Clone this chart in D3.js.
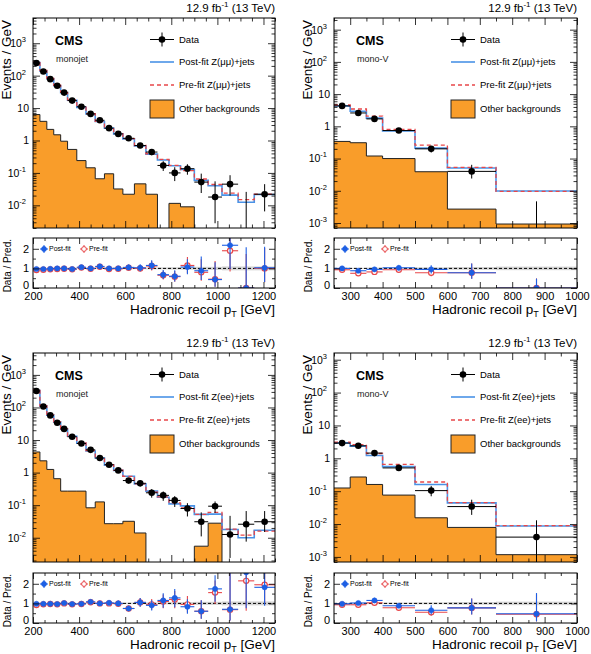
<!DOCTYPE html>
<html>
<head>
<meta charset="utf-8">
<script src="https://cdn.jsdelivr.net/npm/d3@7"></script>
<style>
  body { margin: 0; background: #fff; }
  svg { display: block; font-family: "Liberation Sans", Arial, Helvetica, sans-serif; }
</style>
</head>
<body>
<script>
// bin edges (GeV)
const monojetEdges = [200, 230, 260, 290, 320, 350, 390, 430, 470, 510, 550, 590, 640, 690, 740, 790, 840, 900, 960, 1020, 1090, 1160, 1250];
const monoVEdges = [250, 300, 350, 400, 500, 600, 750, 1000];

// monojet, Z(mumu)
const muJetData = [245, 135, 78, 49, 30, 17, 11, 6.6, 4.2, 2.4, 1.6, 1.17, 0.70, 0.44, 0.17, 0.10, 0.135, 0.052, 0.018, 0.045, 0, 0.022];
const muJetLo = [241, 133, 76.5, 47.7, 29, 16.4, 10.5, 6.2, 3.9, 2.15, 1.4, 1.02, 0.58, 0.35, 0.115, 0.056, 0.088, 0.024, 0.0028, 0.02, 0, 0.0065];
const muJetHi = [249, 137, 79.5, 50.3, 31, 17.7, 11.5, 7.0, 4.5, 2.65, 1.8, 1.33, 0.82, 0.54, 0.23, 0.15, 0.185, 0.095, 0.055, 0.085, 0.026, 0.045];
const muJetPost = [255, 140, 80, 49, 30, 17.5, 10.5, 6.6, 3.85, 2.4, 1.6, 1.12, 0.68, 0.38, 0.25, 0.167, 0.127, 0.059, 0.040, 0.0206, 0.0125, 0.0215];
const muJetPre = [266, 145, 82, 50.5, 30.6, 17.9, 10.6, 6.7, 3.9, 2.47, 1.63, 1.14, 0.70, 0.39, 0.26, 0.172, 0.117, 0.065, 0.044, 0.0237, 0.015, 0.022];
const muJetOther = [6.3, 3.9, 2.2, 1.5, 0.95, 0.53, 0.24, 0.144, 0.066, 0.094, 0.032, 0.022, 0.046, 0.022, 0, 0.0115, 0.009, 0, 0, 0, 0, 0];
const muJetRatioPost = [0.97, 0.97, 0.98, 1.0, 1.0, 0.97, 1.06, 1.0, 1.1, 1.0, 1.0, 1.05, 1.03, 1.15, 0.68, 0.6, 1.07, 0.88, 0.43, 2.18, 0, 1.03];
const muJetRatioPre = [0.92, 0.93, 0.95, 0.97, 0.98, 0.95, 1.04, 0.98, 1.08, 0.97, 0.98, 1.03, 1.0, 1.12, 0.65, 0.58, 1.15, 0.8, 0.45, 1.9, 0, 1.0];
const muJetBand = [0.02, 0.02, 0.02, 0.02, 0.02, 0.02, 0.03, 0.03, 0.03, 0.03, 0.04, 0.04, 0.04, 0.05, 0.05, 0.06, 0.07, 0.08, 0.08, 0.1, 0.1, 0.1];

// mono-V, Z(mumu)
const muVData = [4.3, 2.6, 1.7, 0.74, 0.20, 0.040, 0];
const muVLo = [4.0, 2.37, 1.52, 0.65, 0.155, 0.024, 0];
const muVHi = [4.6, 2.83, 1.88, 0.83, 0.245, 0.064, 0.0047];
const muVPost = [4.3, 2.95, 1.8, 0.72, 0.21, 0.051, 0.0098];
const muVPre = [4.6, 3.45, 2.07, 0.80, 0.26, 0.053, 0.0096];
const muVOther = [0.34, 0.31, 0.12, 0.10, 0.039, 0.0027, 0.00093];
const muVRatioPost = [1.0, 0.88, 0.95, 1.03, 0.95, 0.78, 0];
const muVRatioPre = [0.93, 0.75, 0.82, 0.93, 0.78, 0.78, 0];
const muVBand = [0.03, 0.03, 0.04, 0.04, 0.05, 0.07, 0.09];

// monojet, Z(ee)
const eeJetData = [320, 107, 57, 34, 22, 12.6, 7.8, 5.0, 2.8, 1.75, 1.17, 0.57, 0.47, 0.24, 0.20, 0.14, 0.079, 0.031, 0.093, 0.0126, 0.026, 0.031];
const eeJetLo = [317, 105, 55.6, 33, 21.1, 12.0, 7.35, 4.65, 2.53, 1.54, 1.0, 0.46, 0.37, 0.17, 0.136, 0.088, 0.045, 0.011, 0.058, 0.0024, 0.0076, 0.015];
const eeJetHi = [323, 109, 58.4, 35, 22.9, 13.2, 8.25, 5.35, 3.07, 1.96, 1.34, 0.68, 0.57, 0.31, 0.264, 0.19, 0.115, 0.06, 0.13, 0.047, 0.066, 0.066];
const eeJetPost = [330, 110, 58, 35, 21.5, 13, 8.0, 4.6, 2.8, 1.7, 1.17, 0.77, 0.45, 0.27, 0.175, 0.11, 0.095, 0.052, 0.053, 0.018, 0.010, 0.017];
const eeJetPre = [350, 113, 59, 36, 22, 13.3, 8.1, 4.7, 2.8, 1.75, 1.19, 0.77, 0.45, 0.25, 0.18, 0.117, 0.083, 0.052, 0.06, 0.0185, 0.012, 0.016];
const eeJetOther = [4.3, 2.3, 1.25, 0.65, 0.27, 0.27, 0.27, 0.083, 0.126, 0.027, 0.027, 0.032, 0.014, 0, 0, 0, 0, 0.0055, 0.028, 0, 0, 0];
const eeJetRatioPost = [0.98, 0.98, 0.98, 0.97, 1.02, 0.97, 0.98, 1.08, 1.0, 1.03, 1.0, 0.74, 1.05, 0.9, 1.15, 1.28, 0.83, 0.6, 1.74, 0.7, 2.58, 1.82];
const eeJetRatioPre = [0.92, 0.95, 0.97, 0.95, 1.0, 0.95, 0.97, 1.06, 1.0, 1.0, 0.98, 0.74, 1.05, 0.95, 1.1, 1.2, 0.95, 0.6, 1.55, 0.68, 2.15, 1.95];
const eeJetBand = [0.02, 0.02, 0.02, 0.02, 0.02, 0.02, 0.03, 0.03, 0.03, 0.03, 0.04, 0.04, 0.04, 0.05, 0.05, 0.06, 0.07, 0.08, 0.08, 0.1, 0.1, 0.1];

// mono-V, Z(ee)
const eeVData = [2.9, 2.4, 1.44, 0.51, 0.104, 0.034, 0.004];
const eeVLo = [2.67, 2.18, 1.27, 0.44, 0.07, 0.019, 0.0007];
const eeVHi = [3.13, 2.62, 1.61, 0.58, 0.145, 0.055, 0.013];
const eeVPost = [2.95, 2.35, 1.22, 0.56, 0.16, 0.044, 0.0087];
const eeVPre = [3.1, 2.6, 1.4, 0.65, 0.19, 0.045, 0.009];
const eeVOther = [0.125, 0.27, 0.16, 0.076, 0.0155, 0.0079, 0.00117];
const eeVRatioPost = [0.98, 1.02, 1.15, 0.88, 0.65, 0.77, 0.47];
const eeVRatioPre = [0.93, 0.93, 1.03, 0.78, 0.55, 0.77, 0.45];
const eeVBand = [0.03, 0.03, 0.04, 0.04, 0.05, 0.07, 0.09];

const ratioDomain = [0, 2.55];

const colors = {
  orange: '#f99d2a',
  post: '#4a92e6',
  pre: '#e8474a',
  ratioPost: '#1d5fe4',
  band: '#c9c9c9',
};

const svg = d3.select('body').append('svg')
  .attr('width', 591)
  .attr('height', 654);

const panels = [
  {
    left: 33, right: 275, top: 18, bottom: 228, rTop: 238, rBottom: 288,
    edges: monojetEdges, xMajor: 200, xMinor: 50, yDomain: [0.002, 6000],
    region: 'monojet', channel: 'μμ',
    data: muJetData, lo: muJetLo, hi: muJetHi, post: muJetPost, pre: muJetPre, other: muJetOther,
    rPost: muJetRatioPost, rPre: muJetRatioPre, band: muJetBand,
  },
  {
    left: 334, right: 577, top: 18, bottom: 228, rTop: 238, rBottom: 288,
    edges: monoVEdges, xMajor: 100, xMinor: 50, yDomain: [0.0007, 2300],
    region: 'mono-V', channel: 'μμ',
    data: muVData, lo: muVLo, hi: muVHi, post: muVPost, pre: muVPre, other: muVOther,
    rPost: muVRatioPost, rPre: muVRatioPre, band: muVBand,
  },
  {
    left: 33, right: 275, top: 353, bottom: 562, rTop: 573, rBottom: 623,
    edges: monojetEdges, xMajor: 200, xMinor: 50, yDomain: [0.0018, 4700],
    region: 'monojet', channel: 'ee',
    data: eeJetData, lo: eeJetLo, hi: eeJetHi, post: eeJetPost, pre: eeJetPre, other: eeJetOther,
    rPost: eeJetRatioPost, rPre: eeJetRatioPre, band: eeJetBand,
  },
  {
    left: 334, right: 577, top: 353, bottom: 562, rTop: 573, rBottom: 623,
    edges: monoVEdges, xMajor: 100, xMinor: 50, yDomain: [0.0007, 1600],
    region: 'mono-V', channel: 'ee',
    data: eeVData, lo: eeVLo, hi: eeVHi, post: eeVPost, pre: eeVPre, other: eeVOther,
    rPost: eeVRatioPost, rPre: eeVRatioPre, band: eeVBand,
  },
];

function tickAxis(g, axis, tx, ty, size) {
  return g.append('g')
    .attr('transform', `translate(${tx},${ty})`)
    .call(axis.tickSize(-size).tickFormat(''))
    .call((s) => s.select('.domain').remove())
    .call((s) => s.selectAll('line').attr('stroke', '#000').attr('stroke-width', 0.8));
}

function drawPanel(p, idx) {
  const g = svg.append('g');
  const x0 = p.edges[0];
  const x1 = p.edges[p.edges.length - 1];
  const x = d3.scaleLinear().domain([x0, x1]).range([p.left, p.right]);
  const y = d3.scaleLog().domain(p.yDomain).range([p.bottom, p.top]);
  const yc = (v) => (v > 0 ? y(Math.max(v, p.yDomain[0] * 0.5)) : p.bottom + 5);
  const yr = d3.scaleLinear().domain(ratioDomain).range([p.rBottom, p.rTop]);
  const nb = p.data.length;
  const centers = d3.range(nb).map((i) => (p.edges[i] + p.edges[i + 1]) / 2);

  const defs = g.append('defs');
  defs.append('clipPath').attr('id', `cm${idx}`)
    .append('rect').attr('x', p.left).attr('y', p.top)
    .attr('width', p.right - p.left).attr('height', p.bottom - p.top);
  defs.append('clipPath').attr('id', `cr${idx}`)
    .append('rect').attr('x', p.left).attr('y', p.rTop)
    .attr('width', p.right - p.left).attr('height', p.rBottom - p.rTop);

  // ---- main pad
  const main = g.append('g').attr('clip-path', `url(#cm${idx})`);
  const steps = (vals) => p.edges.map((e, i) => ({ e, v: vals[Math.min(i, vals.length - 1)] }));
  const area = d3.area().curve(d3.curveStepAfter)
    .x((d) => x(d.e)).y0(p.bottom + 5).y1((d) => yc(d.v));
  const line = d3.line().curve(d3.curveStepAfter)
    .x((d) => x(d.e)).y((d) => yc(d.v));

  main.append('path').attr('d', area(steps(p.other))).attr('fill', colors.orange);
  main.append('path').attr('d', line(steps(p.other)))
    .attr('fill', 'none').attr('stroke', '#222').attr('stroke-width', 1);
  main.append('path').attr('d', line(steps(p.post)))
    .attr('fill', 'none').attr('stroke', colors.post).attr('stroke-width', 1.6);
  main.append('path').attr('d', line(steps(p.pre)))
    .attr('fill', 'none').attr('stroke', colors.pre).attr('stroke-width', 1.3)
    .attr('stroke-dasharray', '4,3');

  const pts = main.append('g').attr('stroke', '#000').attr('stroke-width', 1);
  d3.range(nb).forEach((i) => {
    if (p.data[i] > 0) {
      pts.append('line')
        .attr('x1', x(p.edges[i])).attr('x2', x(p.edges[i + 1]))
        .attr('y1', y(p.data[i])).attr('y2', y(p.data[i]));
    }
    pts.append('line')
      .attr('x1', x(centers[i])).attr('x2', x(centers[i]))
      .attr('y1', yc(p.lo[i])).attr('y2', yc(p.hi[i]));
    if (p.data[i] > 0) {
      pts.append('circle').attr('cx', x(centers[i])).attr('cy', y(p.data[i]))
        .attr('r', 3.3).attr('fill', '#000').attr('stroke', 'none');
    }
  });

  // axes of main pad
  const decades = d3.range(Math.floor(Math.log10(p.yDomain[0])), Math.ceil(Math.log10(p.yDomain[1])) + 1);
  const yMajor = decades.map((k) => 10 ** k).filter((v) => v >= p.yDomain[0] && v <= p.yDomain[1]);
  const yMinor = decades.flatMap((k) => d3.range(2, 10).map((m) => m * 10 ** k))
    .filter((v) => v >= p.yDomain[0] && v <= p.yDomain[1]);
  tickAxis(g, d3.axisLeft(y).tickValues(yMinor), p.left, 0, 3.5);
  tickAxis(g, d3.axisRight(y).tickValues(yMinor), p.right, 0, 3.5);
  tickAxis(g, d3.axisRight(y).tickValues(yMajor), p.right, 0, 7);
  const yl = g.append('g').attr('transform', `translate(${p.left},0)`)
    .call(d3.axisLeft(y).tickValues(yMajor).tickSize(-7).tickPadding(7))
    .call((s) => s.select('.domain').remove())
    .call((s) => s.selectAll('line').attr('stroke', '#000').attr('stroke-width', 0.8))
    .attr('font-size', 10.5).attr('font-family', null);
  yl.selectAll('text').each(function (d) {
    const k = Math.round(Math.log10(d));
    const t = d3.select(this).text('');
    if (k === 0 || k === 1) {
      t.attr('dx', 3).text(k === 0 ? '1' : '10');
    } else {
      t.append('tspan').text('10');
      t.append('tspan').attr('dy', -5).attr('font-size', 7.5).text(k);
    }
  });

  const xMajor = d3.range(Math.ceil(x0 / p.xMajor) * p.xMajor, x1 + 1, p.xMajor);
  const xMinor = d3.range(x0, x1 + 1, p.xMinor).filter((v) => !xMajor.includes(v));
  tickAxis(g, d3.axisBottom(x).tickValues(xMajor), 0, p.bottom, 7);
  tickAxis(g, d3.axisBottom(x).tickValues(xMinor), 0, p.bottom, 3.5);
  tickAxis(g, d3.axisTop(x).tickValues(xMajor), 0, p.top, 7);
  tickAxis(g, d3.axisTop(x).tickValues(xMinor), 0, p.top, 3.5);

  g.append('rect').attr('x', p.left).attr('y', p.top)
    .attr('width', p.right - p.left).attr('height', p.bottom - p.top)
    .attr('fill', 'none').attr('stroke', '#000').attr('stroke-width', 1);

  // texts of main pad
  const lumi = g.append('text').attr('x', p.right).attr('y', p.top - 6)
    .attr('text-anchor', 'end').attr('font-size', 11.5);
  lumi.append('tspan').text('12.9 fb');
  lumi.append('tspan').attr('dy', -5).attr('font-size', 8).text('-1');
  lumi.append('tspan').attr('dy', 5).text(' (13 TeV)');

  g.append('text').attr('x', p.left + 22).attr('y', p.top + 27)
    .attr('font-size', 12.5).attr('font-weight', 'bold').text('CMS');
  g.append('text').attr('x', p.left + 23).attr('y', p.top + 44)
    .attr('font-size', 9).attr('fill', '#222').text(p.region);

  g.append('text')
    .attr('transform', `translate(${p.left - 22.5},${p.top + 2}) rotate(-90)`)
    .attr('text-anchor', 'end').attr('font-size', 13.5).text('Events / GeV');

  // legend
  const lx = p.left + 117;
  const lw = 24;
  const lt = 9.5;
  const leg = g.append('g').attr('font-size', lt);
  const ry = [p.top + 21.5, p.top + 44, p.top + 67, p.top + 91];
  leg.append('line').attr('x1', lx).attr('x2', lx + lw).attr('y1', ry[0]).attr('y2', ry[0])
    .attr('stroke', '#000');
  leg.append('line').attr('x1', lx + lw / 2).attr('x2', lx + lw / 2)
    .attr('y1', ry[0] - 7).attr('y2', ry[0] + 7).attr('stroke', '#000');
  leg.append('circle').attr('cx', lx + lw / 2).attr('cy', ry[0]).attr('r', 3.3);
  leg.append('line').attr('x1', lx).attr('x2', lx + lw).attr('y1', ry[1]).attr('y2', ry[1])
    .attr('stroke', colors.post).attr('stroke-width', 1.6);
  leg.append('line').attr('x1', lx).attr('x2', lx + lw).attr('y1', ry[2]).attr('y2', ry[2])
    .attr('stroke', colors.pre).attr('stroke-width', 1.3).attr('stroke-dasharray', '4,3');
  leg.append('rect').attr('x', lx).attr('y', ry[3] - 9).attr('width', lw).attr('height', 18)
    .attr('fill', colors.orange).attr('stroke', '#222').attr('stroke-width', 1);
  const labels = ['Data', `Post-fit Z(${p.channel})+jets`, `Pre-fit Z(${p.channel})+jets`, 'Other backgrounds'];
  labels.forEach((t, i) => {
    leg.append('text').attr('x', lx + lw + 5).attr('y', ry[i]).attr('dy', '0.35em').text(t);
  });

  // ---- ratio pad
  const rat = g.append('g').attr('clip-path', `url(#cr${idx})`);
  d3.range(nb).forEach((i) => {
    rat.append('rect')
      .attr('x', x(p.edges[i])).attr('width', x(p.edges[i + 1]) - x(p.edges[i]))
      .attr('y', yr(1 + p.band[i])).attr('height', yr(1 - p.band[i]) - yr(1 + p.band[i]))
      .attr('fill', colors.band).attr('opacity', 0.8);
  });
  rat.append('line').attr('x1', p.left).attr('x2', p.right)
    .attr('y1', yr(1)).attr('y2', yr(1))
    .attr('stroke', '#000').attr('stroke-width', 1).attr('stroke-dasharray', '3,2');

  const series = [
    { r: p.rPre, pred: p.pre, color: colors.pre, open: true },
    { r: p.rPost, pred: p.post, color: colors.ratioPost, open: false },
  ];
  series.forEach((s) => {
    const sg = rat.append('g').attr('stroke', s.color).attr('stroke-width', 1.1);
    d3.range(nb).forEach((i) => {
      const d = p.data[i];
      const r = s.r[i];
      const rLo = d > 0 ? r * (p.lo[i] / d) : 0;
      const rHi = d > 0 ? r * (p.hi[i] / d) : p.hi[i] / s.pred[i];
      sg.append('line')
        .attr('x1', x(p.edges[i])).attr('x2', x(p.edges[i + 1]))
        .attr('y1', yr(r)).attr('y2', yr(r));
      sg.append('line')
        .attr('x1', x(centers[i])).attr('x2', x(centers[i]))
        .attr('y1', yr(rLo)).attr('y2', yr(rHi));
      sg.append('circle').attr('cx', x(centers[i])).attr('cy', yr(r)).attr('r', 2.6)
        .attr('fill', s.open ? '#fff' : s.color)
        .attr('stroke-width', s.open ? 1.2 : 0.5);
    });
  });

  tickAxis(g, d3.axisBottom(x).tickValues(xMinor), 0, p.rBottom, 3);
  tickAxis(g, d3.axisTop(x).tickValues(xMajor), 0, p.rTop, 6);
  tickAxis(g, d3.axisTop(x).tickValues(xMinor), 0, p.rTop, 3);
  g.append('g').attr('transform', `translate(0,${p.rBottom})`)
    .call(d3.axisBottom(x).tickValues(xMajor).tickSize(-6).tickPadding(4).tickFormat(d3.format('d')))
    .call((s) => s.select('.domain').remove())
    .call((s) => s.selectAll('line').attr('stroke', '#000').attr('stroke-width', 0.8))
    .attr('font-size', 11).attr('font-family', null);

  const rMajor = [0, 1, 2];
  const rMinor = [0.5, 1.5];
  tickAxis(g, d3.axisLeft(yr).tickValues(rMinor), p.left, 0, 3);
  tickAxis(g, d3.axisRight(yr).tickValues(rMinor), p.right, 0, 3);
  tickAxis(g, d3.axisRight(yr).tickValues(rMajor), p.right, 0, 6);
  g.append('g').attr('transform', `translate(${p.left},0)`)
    .call(d3.axisLeft(yr).tickValues(rMajor).tickSize(-6).tickPadding(4).tickFormat(d3.format('d')))
    .call((s) => s.select('.domain').remove())
    .call((s) => s.selectAll('line').attr('stroke', '#000').attr('stroke-width', 0.8))
    .call((s) => s.selectAll('.tick').filter((d) => d === 0).select('text').attr('dy', '0'))
    .attr('font-size', 11).attr('font-family', null);

  g.append('rect').attr('x', p.left).attr('y', p.rTop)
    .attr('width', p.right - p.left).attr('height', p.rBottom - p.rTop)
    .attr('fill', 'none').attr('stroke', '#000').attr('stroke-width', 1);

  g.append('text')
    .attr('transform', `translate(${p.left - 22},${p.rTop + 1}) rotate(-90)`)
    .attr('text-anchor', 'end').attr('font-size', 10).text('Data / Pred.');

  const xt = g.append('text').attr('x', p.right).attr('y', p.rBottom + 26)
    .attr('text-anchor', 'end').attr('font-size', 13.5);
  xt.append('tspan').text('Hadronic recoil p');
  xt.append('tspan').attr('dy', 2.5).attr('font-size', 9).text('T');
  xt.append('tspan').attr('dy', -2.5).text(' [GeV]');

  // ratio legend
  const rl = g.append('g').attr('font-size', 7);
  const rly = p.rTop + 11;
  [{ cx: p.left + 11, c: colors.ratioPost, open: false, t: 'Post-fit' },
    { cx: p.left + 51, c: colors.pre, open: true, t: 'Pre-fit' }].forEach((e) => {
    rl.append('line').attr('x1', e.cx - 4).attr('x2', e.cx + 4).attr('y1', rly).attr('y2', rly)
      .attr('stroke', e.c);
    rl.append('line').attr('x1', e.cx).attr('x2', e.cx).attr('y1', rly - 4).attr('y2', rly + 4)
      .attr('stroke', e.c);
    rl.append('circle').attr('cx', e.cx).attr('cy', rly).attr('r', 2.4)
      .attr('fill', e.open ? '#fff' : e.c).attr('stroke', e.c).attr('stroke-width', 1);
    rl.append('text').attr('x', e.cx + 5).attr('y', rly).attr('dy', '0.35em').text(e.t);
  });
}

panels.forEach(drawPanel);
</script>
</body>
</html>
